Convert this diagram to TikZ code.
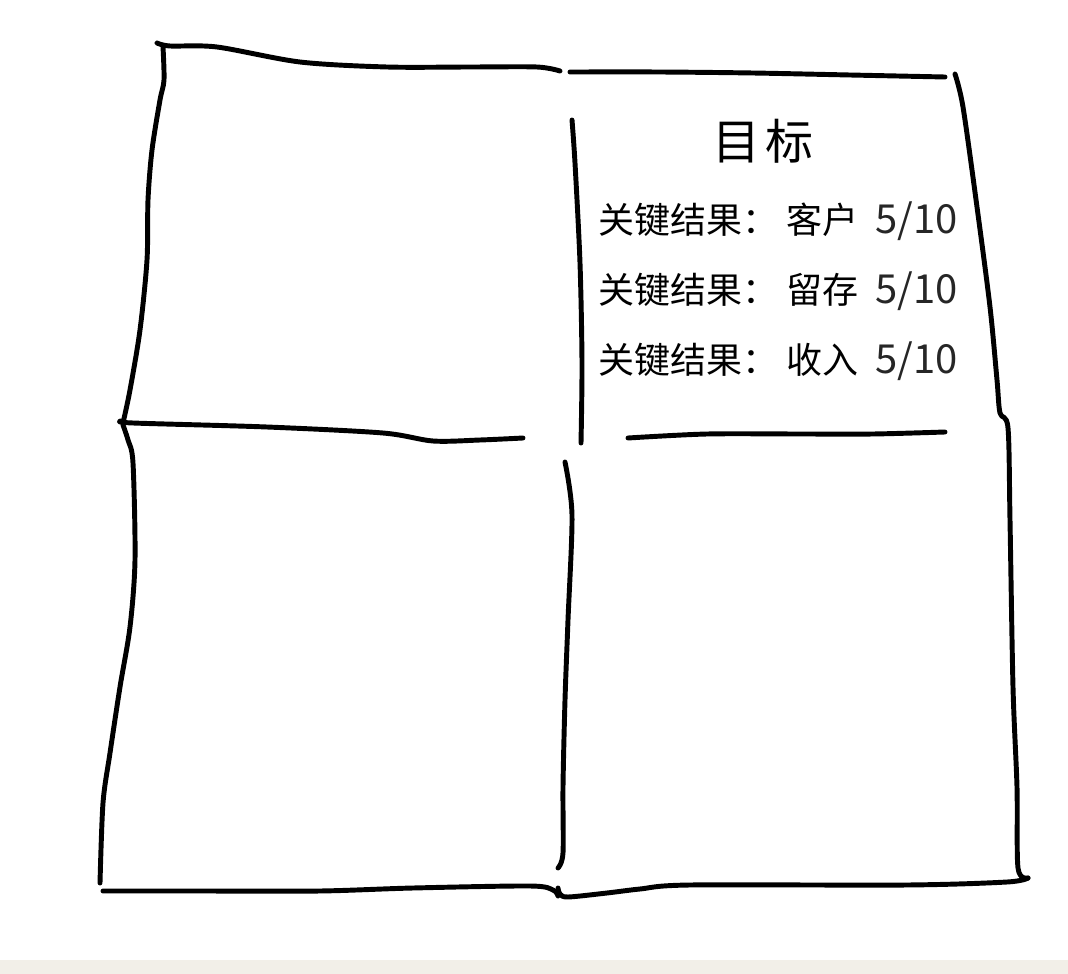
\documentclass[tikz,border=0pt]{standalone}
\usepackage{fontspec}
\newfontfamily\cjk{Noto Sans CJK SC}
\definecolor{beige}{HTML}{F2EFE8}
\tikzset{
  pen/.style={line width=3.7pt, line cap=round, line join=round, black},
  krow/.style={font=\cjk\fontsize{27pt}{30pt}\selectfont, inner sep=0pt, anchor=base west},
  kval/.style={font=\cjk\fontsize{30pt}{34pt}\selectfont, inner sep=0pt, anchor=base east, text=black!85},
}
\begin{document}
\begin{tikzpicture}[x=0.75pt,y=-0.75pt]
\useasboundingbox (0,0) rectangle (1068,974);
\fill[white] (0,0) rectangle (1068,974);
\fill[beige] (0,960) rectangle (1068,974);

% top-left: tick + top edge
\draw[pen] plot[smooth, tension=0.5] coordinates {(157,43) (170,46) (217,47) (300,62) (387,67) (470,67) (537,67) (560,71)};
% left edge of upper-left
\draw[pen] plot[smooth, tension=0.5] coordinates {(163,47) (164,80) (160,100) (152,150) (148,200) (147,260) (140,330) (130,390) (123,423)};
% middle horizontal left
\draw[pen] plot[smooth, tension=0.5] coordinates {(121,421) (133,423) (267,427) (383,433) (433,441) (480,440) (523,438)};
% left edge of lower-left
\draw[pen] plot[smooth, tension=0.5] coordinates {(123,425) (128,440) (133,463) (135,560) (130,627) (120,687) (110,753) (103,803) (100,883)};
% bottom left
\draw[pen] plot[smooth, tension=0.5] coordinates {(103,891) (200,891) (320,891) (413,888) (530,886) (553,890) (558,896)};
% top right edge
\draw[pen] plot[smooth, tension=0.5] coordinates {(570,72) (660,72) (753,73) (850,75) (945,77)};
% right edge + bottom right
\draw[pen] plot[smooth, tension=0.5] coordinates {(955,74) (963,107) (977,207) (990,307) (997,380) (1000,413) (1008,428) (1010,520) (1013,687) (1017,787) (1018,868) (1028,878)};
\draw[pen] plot[smooth, tension=0.5] coordinates {(1028,878) (1007,882) (907,885) (690,885) (640,889) (607,893) (568,897) (560,894) (558,888)};
% center vertical upper
\draw[pen] plot[smooth, tension=0.5] coordinates {(572,120) (575,163) (580,263) (582,363) (581,443)};
% center vertical lower
\draw[pen] plot[smooth, tension=0.5] coordinates {(565,462) (572,515) (568,620) (565,700) (563,787) (563,853) (558,868)};
% middle horizontal right
\draw[pen] plot[smooth, tension=0.5] coordinates {(628,438) (707,434) (800,434) (873,434) (945,432)};

% text
\node[font=\cjk\fontsize{36pt}{40pt}\selectfont, inner sep=0pt] (title) at (763,141) {目\hspace{4pt}标};

\node[krow] (k1) at (598,233) {关键结果：};
\node[krow] (c1) at (786,233) {客户};
\node[kval] (v1) at (958,233) {5/10};

\node[krow] (k2) at (598,303) {关键结果：};
\node[krow] (c2) at (786,303) {留存};
\node[kval] (v2) at (958,303) {5/10};

\node[krow] (k3) at (598,373) {关键结果：};
\node[krow] (c3) at (786,373) {收入};
\node[kval] (v3) at (958,373) {5/10};
\end{tikzpicture}
\end{document}
